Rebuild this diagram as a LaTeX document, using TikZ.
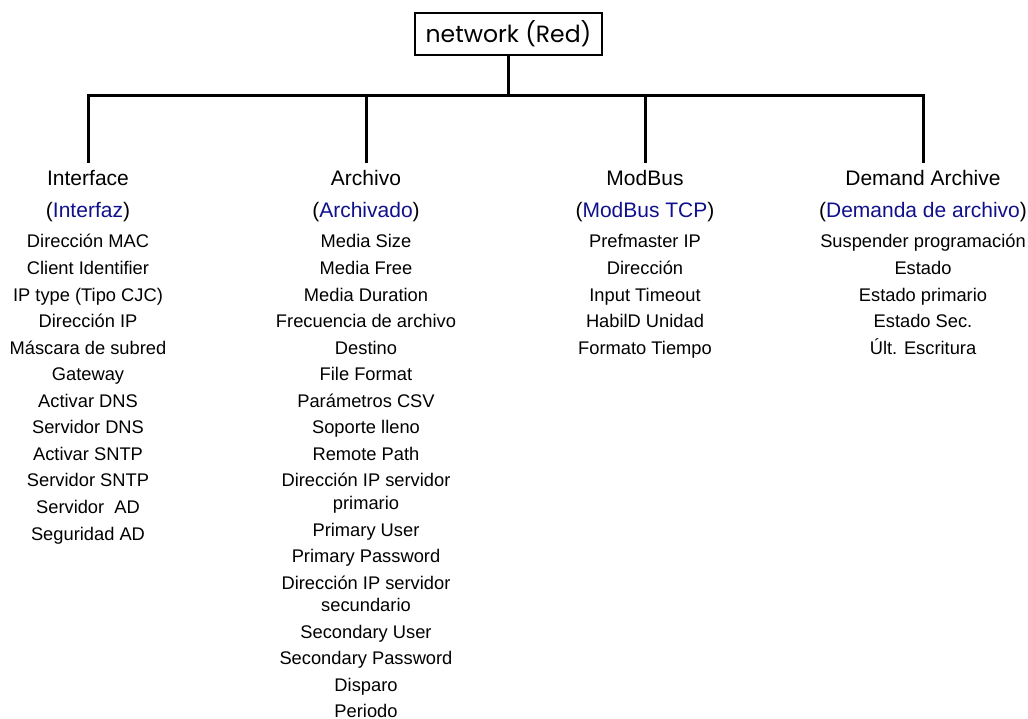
\documentclass[tikz,border=0pt]{standalone}
\usepackage{fontspec}
\setmainfont{Liberation Sans}
\newfontfamily\rootfont{Poppins}
\usepackage{xcolor}
\usepackage{tikz}
\usetikzlibrary{positioning}
\definecolor{subblue}{RGB}{16,16,140}
\definecolor{linegray}{RGB}{0,0,0}
\tikzset{
  rootbox/.style={rectangle, draw, line width=2pt, minimum width=187pt,
    minimum height=42pt, inner sep=0pt, font=\rootfont\fontsize{23.5}{28}\selectfont},
  grouphead/.style={anchor=north, inner sep=0pt, outer sep=0pt, align=center,
    font=\fontsize{21}{32}\selectfont},
  item/.style={inner sep=0pt, outer sep=0pt, align=center,
    font=\fontsize{18.3}{26.55}\selectfont},
  branch/.style={line width=3pt, color=linegray},
}
% depth below the second heading line, keeps the lists clear of it
\newcommand{\headfoot}{\rule[-12pt]{0pt}{12pt}}

\begin{document}
\begin{tikzpicture}[x=1pt, y=-1pt]
  \useasboundingbox (0,0) rectangle (1028,718);
  \node[rootbox] (net) at (508.5,34) {network (Red)};
  \coordinate (bus) at (508.5,95.5);

  % the four groups below the bus line
  \node[grouphead, alias=iface-0] (iface) at (88,163)
    {\strut Interface\\(\textcolor{subblue}{Interfaz})\headfoot};
  \node[grouphead, alias=arch-0] (arch) at (366,163)
    {\strut Archivo\\(\textcolor{subblue}{Archivado})\headfoot};
  \node[grouphead, alias=modbus-0] (modbus) at (645,163)
    {\strut ModBus\\(\textcolor{subblue}{ModBus TCP})\headfoot};
  \node[grouphead, alias=demand-0] (demand) at (923,163)
    {\strut Demand Archive\\(\textcolor{subblue}{Demanda de archivo})\headfoot};

  \draw[branch] (net) -- (bus);
  \foreach \g in {iface,arch,modbus,demand}
    \draw[branch] (bus) -| (\g.north);

  % parameter lists, stacked one under the other
  \foreach \txt [count=\i, remember=\i as \j (initially 0)] in
    {Dirección MAC, Client Identifier, IP type (Tipo CJC), Dirección IP,
     Máscara de subred, Gateway, Activar DNS, Servidor DNS, Activar SNTP,
     Servidor SNTP, Servidor~\ AD, Seguridad AD}
    \node[item, below=0pt of iface-\j] (iface-\i) {\strut\txt\strut};
  \foreach \txt [count=\i, remember=\i as \j (initially 0)] in
    {Media Size, Media Free, Media Duration, Frecuencia de archivo, Destino,
     File Format, Parámetros CSV, Soporte lleno, Remote Path,
     {Dirección IP servidor\\[-3.95pt]primario}, Primary User, Primary Password,
     {Dirección IP servidor\\[-3.95pt]secundario}, Secondary User,
     Secondary Password, Disparo, Periodo}
    \node[item, below=0pt of arch-\j] (arch-\i) {\strut\txt\strut};
  \foreach \txt [count=\i, remember=\i as \j (initially 0)] in
    {Prefmaster IP, Dirección, Input Timeout, HabilD Unidad, Formato Tiempo}
    \node[item, below=0pt of modbus-\j] (modbus-\i) {\strut\txt\strut};
  \foreach \txt [count=\i, remember=\i as \j (initially 0)] in
    {Suspender programación, Estado, Estado primario, Estado Sec., Últ. Escritura}
    \node[item, below=0pt of demand-\j] (demand-\i) {\strut\txt\strut};
\end{tikzpicture}
\end{document}
